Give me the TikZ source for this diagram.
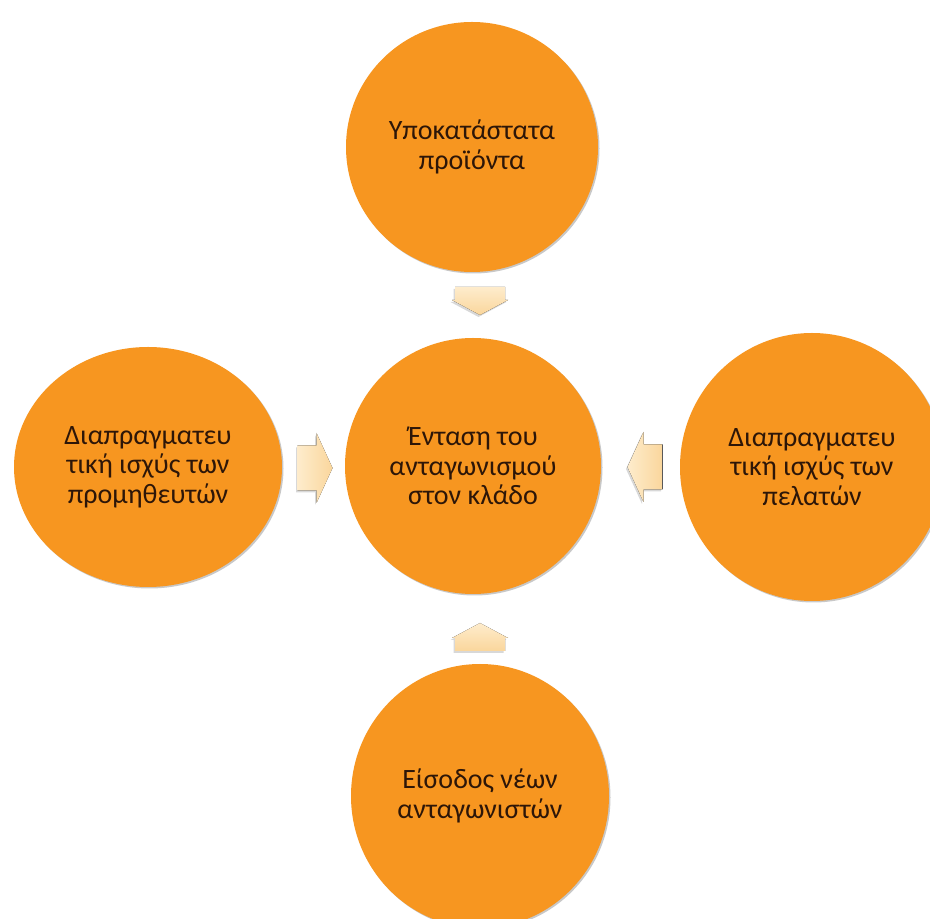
\documentclass[tikz,border=0pt]{standalone}
\usepackage{fontspec}
\setmainfont{Carlito}
\usetikzlibrary{shapes.geometric,shadows}
\definecolor{orfill}{RGB}{247,150,32}
\definecolor{txt}{RGB}{45,22,8}
\definecolor{arrA}{RGB}{254,236,204}
\definecolor{arrB}{RGB}{250,214,156}
\tikzset{
  bubble/.style={ellipse, fill=orfill, inner sep=0pt, align=center, text=txt,
    font=\fontsize{28}{29.5}\selectfont,
    drop shadow={shadow xshift=1.5pt, shadow yshift=-1.5pt, opacity=0.3, fill=black!70}},
  arrowshade/.style={draw=none,
    drop shadow={shadow xshift=-1.5pt, shadow yshift=-2pt, opacity=0.25, fill=black!60}},
  harrow/.pic={
    \fill[arrowshade, left color=arrA, right color=arrB]
      (-17.5,-22.5) -- (1.5,-22.5) -- (1.5,-35) -- (17.5,0) -- (1.5,35)
      -- (1.5,22.5) -- (-17.5,22.5) -- cycle;},
  varrow/.pic={
    \fill[arrowshade, top color=arrA, bottom color=arrB]
      (-25,14) -- (25,14) -- (25,1) -- (28,1) -- (0,-14) -- (-28,1)
      -- (-25,1) -- cycle;}
}
\begin{document}
\begin{tikzpicture}[x=1pt,y=1pt]
\path[use as bounding box] (0,0) rectangle (930,919);
\clip (0,0) rectangle (930,919);
\fill[white] (0,0) rectangle (930,919);
\node[bubble, minimum width=252pt, minimum height=250pt] (sub) at (472,772) {Υποκατάστατα\\προϊόντα};
\node[bubble, minimum width=256pt, minimum height=256pt] (core) at (473,453) {Ένταση του\\ανταγωνισμού\\στον κλάδο};
\node[bubble, minimum width=268pt, minimum height=240pt] (sup) at (148,452) {Διαπραγματευ\\τική ισχύς των\\προμηθευτών};
\node[bubble, minimum width=264pt, minimum height=268pt] (cus) at (812,452) {Διαπραγματευ\\τική ισχύς των\\πελατών};
\node[bubble, minimum width=258pt, minimum height=264pt] (new) at (480,123) {Είσοδος νέων\\ανταγωνιστών};
\pic at (480,618) {varrow};
\pic[yscale=-1] at (480,282) {varrow};
\pic at (315,451) {harrow};
\pic[xscale=-1] at (645,452) {harrow};
\end{tikzpicture}
\end{document}
